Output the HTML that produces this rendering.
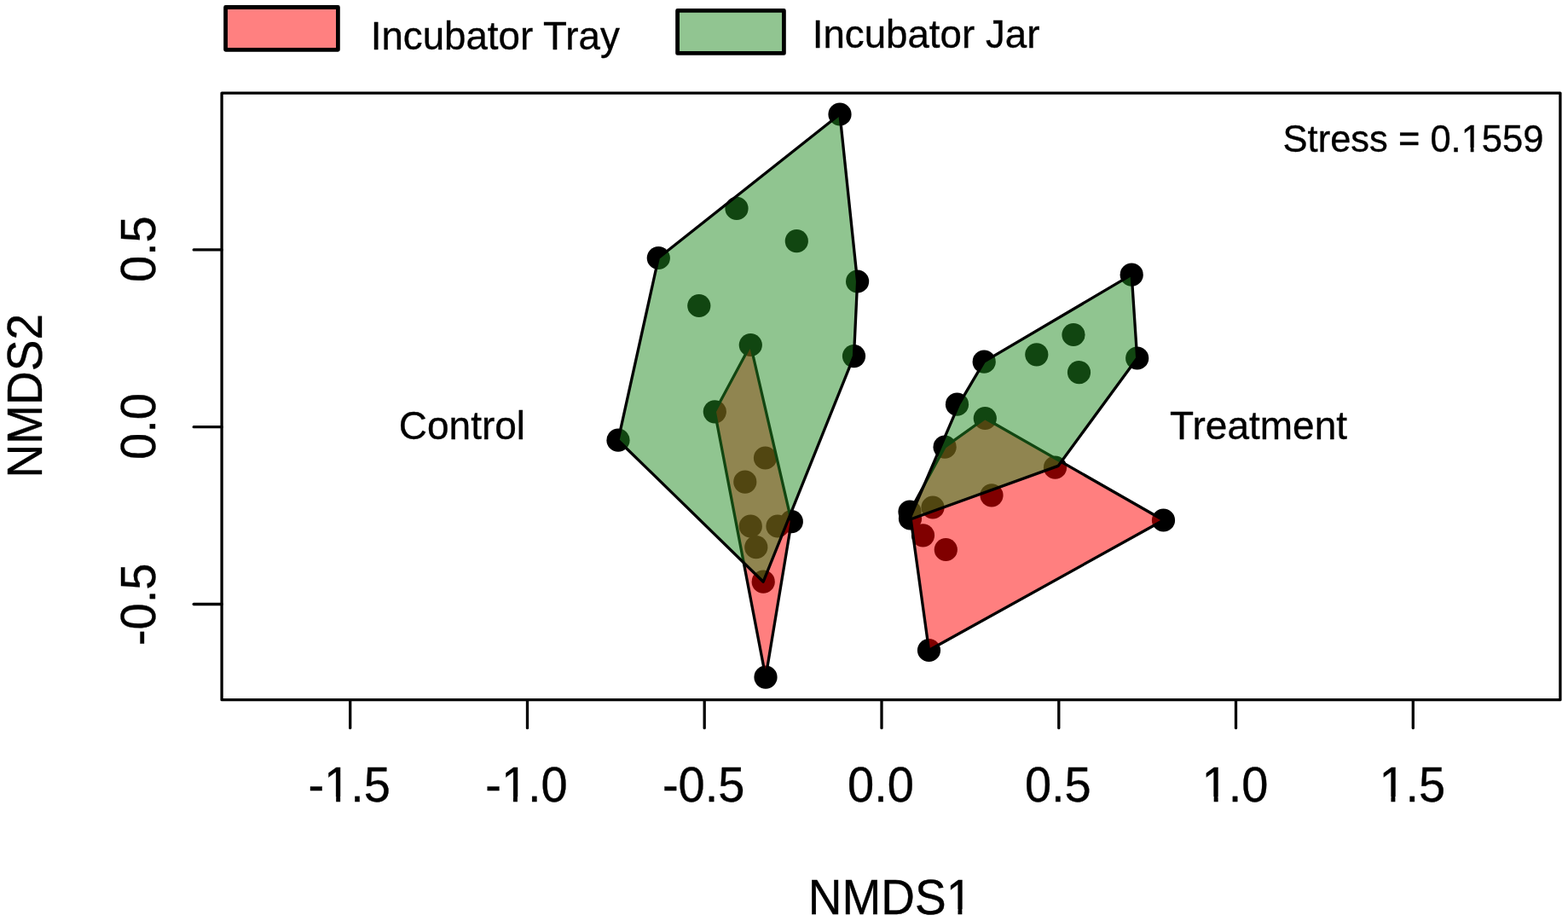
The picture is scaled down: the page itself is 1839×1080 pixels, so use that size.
<!DOCTYPE html>
<html><head><meta charset="utf-8"><title>NMDS plot</title>
<style>
html,body{margin:0;padding:0;background:#fff;width:1839px;height:1080px;overflow:hidden}
svg{display:block}
.t{font-family:"Liberation Sans", Arial, sans-serif;fill:#000;stroke:#000;stroke-width:0.35px}
</style></head><body>
<svg width="1839" height="1080" viewBox="0 0 1839 1080">
<rect width="1839" height="1080" fill="#fff"/>
<rect x="264.6" y="8.5" width="131.8" height="49.8" fill="#ff8080" stroke="#000" stroke-width="4.8" stroke-linejoin="round"/>
<rect x="794.6" y="12.4" width="124.8" height="50" fill="#91c591" stroke="#000" stroke-width="4.8" stroke-linejoin="round"/>
<text transform="translate(434.7 58.0) scale(1 1.0)" font-size="45.7" class="t">Incubator Tray</text>
<text transform="translate(952.7 56.1) scale(1 1.0)" font-size="45.7" class="t">Incubator Jar</text>
<g fill="#000">
<circle cx="985" cy="134" r="13.6"/>
<circle cx="864.0" cy="244.4" r="13.6"/>
<circle cx="934.3" cy="282.7" r="13.6"/>
<circle cx="772.3" cy="302.5" r="13.6"/>
<circle cx="1005.6" cy="330.0" r="13.6"/>
<circle cx="819.8" cy="358.5" r="13.6"/>
<circle cx="880.3" cy="404.5" r="13.6"/>
<circle cx="1001.5" cy="417.6" r="13.6"/>
<circle cx="838.3" cy="482.8" r="13.6"/>
<circle cx="725" cy="516.2" r="13.6"/>
<circle cx="897.5" cy="537" r="13.6"/>
<circle cx="873.8" cy="565.1" r="13.6"/>
<circle cx="880.3" cy="617.0" r="13.6"/>
<circle cx="912.0" cy="617.0" r="13.6"/>
<circle cx="928.3" cy="611.7" r="13.6"/>
<circle cx="886.8" cy="641.7" r="13.6"/>
<circle cx="895.2" cy="682.2" r="13.6"/>
<circle cx="898" cy="794.1" r="13.6"/>
<circle cx="1327.2" cy="322.2" r="13.6"/>
<circle cx="1259.0" cy="392.5" r="13.6"/>
<circle cx="1215.8" cy="415.8" r="13.6"/>
<circle cx="1154.2" cy="424.2" r="13.6"/>
<circle cx="1333.7" cy="420" r="13.6"/>
<circle cx="1265.5" cy="436.7" r="13.6"/>
<circle cx="1122.5" cy="474.2" r="13.6"/>
<circle cx="1155.3" cy="490.5" r="13.6"/>
<circle cx="1108.1" cy="524.2" r="13.6"/>
<circle cx="1237.5" cy="548.2" r="13.6"/>
<circle cx="1163" cy="580.8" r="13.6"/>
<circle cx="1094" cy="595" r="13.6"/>
<circle cx="1067" cy="600" r="13.6"/>
<circle cx="1067.5" cy="608" r="13.6"/>
<circle cx="1364.5" cy="610" r="13.6"/>
<circle cx="1082.5" cy="627.8" r="13.6"/>
<circle cx="1109.3" cy="644.5" r="13.6"/>
<circle cx="1089.5" cy="762.5" r="13.6"/>
</g>
<polygon points="880.3,404.5 928.3,611.7 898.0,794.1 838.3,482.8" fill="rgb(255,0,0)" fill-opacity="0.5" stroke="#000" stroke-width="3.3" stroke-linejoin="round"/>
<polygon points="1155.3,490.5 1364.5,610.0 1089.5,762.5 1067.0,600.0 1108.1,524.2" fill="rgb(255,0,0)" fill-opacity="0.5" stroke="#000" stroke-width="3.3" stroke-linejoin="round"/>
<polygon points="985.0,134.0 1005.6,330.0 1001.5,417.6 895.2,682.2 725.0,516.2 772.3,302.5" fill="rgb(34,139,34)" fill-opacity="0.5" stroke="#000" stroke-width="3.3" stroke-linejoin="round"/>
<polygon points="1327.2,322.2 1333.7,420.0 1241.0,546.4 1066.3,609.5 1124.6,474.2 1154.2,424.2" fill="rgb(34,139,34)" fill-opacity="0.5" stroke="#000" stroke-width="3.3" stroke-linejoin="round"/>
<rect x="260.1" y="109.1" width="1569.8" height="711.6" fill="none" stroke="#000" stroke-width="3.3" stroke-linejoin="round"/>
<line x1="410.7" y1="820.7" x2="410.7" y2="853.7" stroke="#000" stroke-width="3.3" stroke-linecap="round"/>
<text transform="translate(409.7 940) scale(1 1.02)" font-size="56" text-anchor="middle" class="t">-1.5</text>
<line x1="618.5" y1="820.7" x2="618.5" y2="853.7" stroke="#000" stroke-width="3.3" stroke-linecap="round"/>
<text transform="translate(617.5 940) scale(1 1.02)" font-size="56" text-anchor="middle" class="t">-1.0</text>
<line x1="826.2" y1="820.7" x2="826.2" y2="853.7" stroke="#000" stroke-width="3.3" stroke-linecap="round"/>
<text transform="translate(825.2 940) scale(1 1.02)" font-size="56" text-anchor="middle" class="t">-0.5</text>
<line x1="1034.0" y1="820.7" x2="1034.0" y2="853.7" stroke="#000" stroke-width="3.3" stroke-linecap="round"/>
<text transform="translate(1033.0 940) scale(1 1.02)" font-size="56" text-anchor="middle" class="t">0.0</text>
<line x1="1241.8" y1="820.7" x2="1241.8" y2="853.7" stroke="#000" stroke-width="3.3" stroke-linecap="round"/>
<text transform="translate(1240.8 940) scale(1 1.02)" font-size="56" text-anchor="middle" class="t">0.5</text>
<line x1="1449.5" y1="820.7" x2="1449.5" y2="853.7" stroke="#000" stroke-width="3.3" stroke-linecap="round"/>
<text transform="translate(1448.5 940) scale(1 1.02)" font-size="56" text-anchor="middle" class="t">1.0</text>
<line x1="1657.3" y1="820.7" x2="1657.3" y2="853.7" stroke="#000" stroke-width="3.3" stroke-linecap="round"/>
<text transform="translate(1656.3 940) scale(1 1.02)" font-size="56" text-anchor="middle" class="t">1.5</text>
<line x1="260.1" y1="292.9" x2="227.2" y2="292.9" stroke="#000" stroke-width="3.3" stroke-linecap="round"/>
<text transform="translate(181.7 292.2) rotate(-90) scale(1 1.02)" font-size="56" text-anchor="middle" class="t">0.5</text>
<line x1="260.1" y1="500.7" x2="227.2" y2="500.7" stroke="#000" stroke-width="3.3" stroke-linecap="round"/>
<text transform="translate(181.7 500.0) rotate(-90) scale(1 1.02)" font-size="56" text-anchor="middle" class="t">0.0</text>
<line x1="260.1" y1="708.5" x2="227.2" y2="708.5" stroke="#000" stroke-width="3.3" stroke-linecap="round"/>
<text transform="translate(181.7 708.8) rotate(-90) scale(1 1.02)" font-size="56" text-anchor="middle" class="t">-0.5</text>
<text transform="translate(1504.6 177.7) scale(1 1.02)" font-size="43.5" class="t">Stress = 0.1559</text>
<text transform="translate(467.8 514.8) scale(1 1.0)" font-size="46" class="t">Control</text>
<text transform="translate(1372.1 514.8) scale(1 1.0)" font-size="46" class="t">Treatment</text>
<text transform="translate(1044 1072) scale(1 1.04)" font-size="55" text-anchor="middle" class="t">NMDS1</text>
<text transform="translate(48.6 464.3) rotate(-90) scale(1 1.04)" font-size="55" text-anchor="middle" class="t">NMDS2</text>
<g fill="#fff"><rect x="383.17" y="934.23" width="11.02" height="7.27"/><rect x="399.14" y="934.23" width="10.58" height="7.27"/><rect x="590.94" y="934.23" width="11.02" height="7.27"/><rect x="606.90" y="934.23" width="10.58" height="7.27"/><rect x="1412.67" y="934.23" width="11.02" height="7.27"/><rect x="1428.64" y="934.23" width="10.58" height="7.27"/><rect x="1620.44" y="934.23" width="11.02" height="7.27"/><rect x="1636.40" y="934.23" width="10.58" height="7.27"/><rect x="1715.84" y="172.89" width="8.83" height="6.31"/><rect x="1728.51" y="172.89" width="8.49" height="6.31"/><rect x="1112.66" y="1066.23" width="10.84" height="7.27"/><rect x="1128.37" y="1066.23" width="10.41" height="7.27"/></g>
</svg>
</body></html>
